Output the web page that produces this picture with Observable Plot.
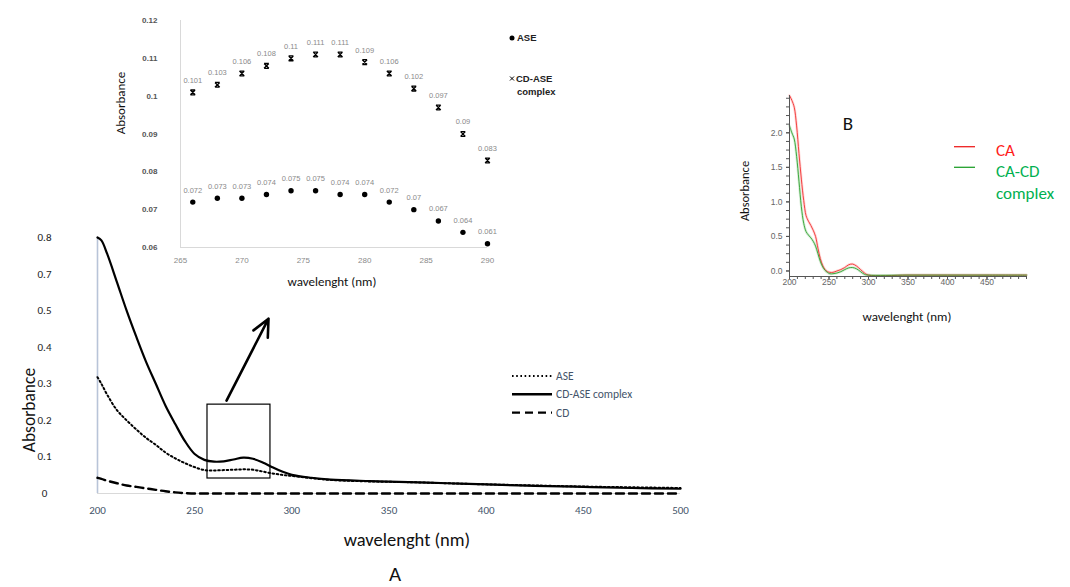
<!DOCTYPE html>
<html><head><meta charset="utf-8">
<script src="https://cdn.jsdelivr.net/npm/d3@7"></script>
<script src="https://cdn.jsdelivr.net/npm/@observablehq/plot@0.6"></script>
<style>
body{margin:0;background:#fff;}
#root{position:relative;width:1070px;height:587px;overflow:hidden;background:#fff;font-family:Carlito,Lato,"Open Sans",sans-serif;}
.abs{position:absolute;}
.t{position:absolute;white-space:nowrap;transform:translate(-50%,-50%);line-height:1;}
.tl{position:absolute;white-space:nowrap;transform:translate(0,-50%);line-height:1;}
.rot{transform:translate(-50%,-50%) rotate(-90deg);}
</style></head><body><div id="root"></div>
<script>
// ---------- Panel A (main spectrum) ----------
const wlA = [200,202,205,210,215,220,225,230,235,240,245,250,255,260,265,270,275,280,285,290,295,300,310,320,340,360,380,400,425,450,475,500];
const complexA = [0.700,0.692,0.655,0.578,0.500,0.428,0.360,0.300,0.240,0.190,0.143,0.108,0.092,0.087,0.088,0.093,0.098,0.095,0.085,0.072,0.060,0.051,0.043,0.038,0.034,0.031,0.028,0.025,0.021,0.018,0.015,0.013];
const aseA     = [0.318,0.300,0.270,0.228,0.200,0.175,0.152,0.133,0.112,0.096,0.083,0.072,0.064,0.063,0.064,0.065,0.066,0.065,0.060,0.055,0.051,0.048,0.042,0.037,0.033,0.031,0.028,0.025,0.022,0.019,0.017,0.015];
const cdA      = [0.043,0.040,0.035,0.028,0.022,0.018,0.014,0.010,0.006,0.003,0.001,0,0,0,0,0,0,0,0,0,0,0,0,0,0,0,0,0,0,0,0,0];
const xTicksA = [200,250,300,350,400,450,500];
const yTickPosA = [0,0.1,0.2,0.3,0.4,0.5,0.6,0.7];
const yTickLabelsA = ["0","0.1","0.2","0.3","0.4","0.5","0.7","0.8"];
const seriesNamesA = ["ASE","CD-ASE complex","CD"];
const zoomBoxA = [{x1:256.6,x2:289,y1:0.041,y2:0.243}];
const zoomArrowA = [{x1:266.4,y1:0.254,x2:288,y2:0.478}];

// ---------- Inset (265-290 nm) ----------
const wlIn = [266,268,270,272,274,276,278,280,282,284,286,288,290];
const aseIn = [0.072,0.073,0.073,0.074,0.075,0.075,0.074,0.074,0.072,0.070,0.067,0.064,0.061];
const complexIn = [0.101,0.103,0.106,0.108,0.110,0.111,0.111,0.109,0.106,0.102,0.097,0.090,0.083];
const xTicksIn = [265,270,275,280,285,290];
const yTicksIn = [0.06,0.07,0.08,0.09,0.10,0.11,0.12];
const yTickLabelsIn = ["0.06","0.07","0.08","0.09","0.1","0.11","0.12"];
const seriesNamesIn = ["ASE","CD-ASE","complex"];

// ---------- Panel B ----------
const wlB = [200,203,206,209,212,215,218,221,224,227,230,233,236,239,242,245,248,251,255,260,265,270,275,280,285,290,295,300,350,400,450,500];
const caB   = [2.54,2.47,2.37,2.10,1.70,1.33,1.02,0.80,0.72,0.66,0.59,0.50,0.33,0.18,0.08,0.02,-0.01,-0.02,-0.02,0.00,0.02,0.05,0.09,0.10,0.07,0.02,-0.03,-0.06,-0.06,-0.06,-0.06,-0.06];
const cacdB = [2.10,2.00,1.91,1.66,1.30,0.93,0.69,0.57,0.52,0.48,0.43,0.36,0.25,0.14,0.06,0.01,-0.02,-0.04,-0.04,-0.03,-0.01,0.02,0.045,0.05,0.03,-0.01,-0.05,-0.06,-0.06,-0.06,-0.06,-0.06];
const xTicksB = [200,250,300,350,400,450];
const yTicksB = [0,0.5,1.0,1.5,2.0];
const seriesNamesB = ["CA","CA-CD","complex"];

const root = document.getElementById("root");
function place(el, left, top){ el.style.position="absolute"; el.style.left=left+"px"; el.style.top=top+"px"; root.appendChild(el); return el; }
function txt(s, x, y, css, cls="t"){ const d=document.createElement("div"); d.className=cls; d.textContent=s; d.style.left=x+"px"; d.style.top=y+"px"; if(css) d.style.cssText+=css; root.appendChild(d); return d; }

const rows = (xs, vs) => xs.map((x,i)=>({x, y: vs[i]}));

// x-with-bars marker
const hourglass = {draw(ctx, size){ const s = Math.sqrt(size/Math.PI);
  ctx.moveTo(-s,-s); ctx.lineTo(s,s); ctx.moveTo(s,-s); ctx.lineTo(-s,s);
  ctx.moveTo(-s,-s); ctx.lineTo(s,-s); ctx.moveTo(-s,s); ctx.lineTo(s,s); }};

// ----- Main chart A -----
const plotA = Plot.plot({
  width:700, height:320, marginLeft:97, marginRight:20, marginTop:17, marginBottom:47,
  x:{domain:[200,500]}, y:{domain:[0,0.7]},
  style:{fontFamily:"Carlito,Lato,sans-serif", fontSize:"11px", background:"transparent", overflow:"visible"},
  marks:[
    Plot.ruleY([0],{stroke:"#d9d9d9"}),
    Plot.ruleX([200],{stroke:"#b8c4d8", strokeWidth:1.6}),
    Plot.axisX({ticks:xTicksA, tickSize:0, tickPadding:13, fill:"#44546A", label:null, fontSize:11}),
    Plot.axisY({ticks:yTickPosA, tickFormat:d=>yTickLabelsA[yTickPosA.indexOf(d)], tickSize:0, tickPadding:53, textAnchor:"middle", fill:"#222", label:null, fontSize:11}),
    Plot.line(rows(wlA, cdA), {x:"x", y:"y", stroke:"black", strokeWidth:2.4, strokeDasharray:"8,5", curve:"monotone-x"}),
    Plot.line(rows(wlA, aseA), {x:"x", y:"y", stroke:"black", strokeWidth:2, strokeDasharray:"1.6,2.6", curve:"catmull-rom"}),
    Plot.line(rows(wlA, complexA), {x:"x", y:"y", stroke:"black", strokeWidth:2.2, curve:"catmull-rom"}),
    Plot.rect(zoomBoxA, {x1:"x1", x2:"x2", y1:"y1", y2:"y2", fill:"none", stroke:"black", strokeWidth:1.2}),
    Plot.arrow(zoomArrowA, {x1:"x1", y1:"y1", x2:"x2", y2:"y2", stroke:"black", strokeWidth:2.6, headLength:11, headAngle:50})
  ]
});
place(plotA, 0, 220);

// legend A
const legA = document.createElementNS("http://www.w3.org/2000/svg","svg");
legA.setAttribute("width",160); legA.setAttribute("height",60);
const dashes = ["1.6,2.6", null, "8,5"];
legA.innerHTML = seriesNamesA.map((n,i)=>{
  const y = 8 + i*18.3;
  return `<line x1="2" x2="42" y1="${y}" y2="${y}" stroke="black" stroke-width="${i===0?2:2.4}" ${dashes[i]?`stroke-dasharray="${dashes[i]}"`:""}/>`+
         `<text x="46" y="${y}" dy="0.35em" font-size="11.5" fill="#44546A" font-family="Carlito,Lato,sans-serif">${n}</text>`;
}).join("");
place(legA, 510, 368);

txt("Absorbance", 30, 410, "font-size:17.5px;color:#111;", "t rot");
txt("wavelenght (nm)", 407, 540, "font-size:18.5px;color:#111;");
txt("A", 395, 574, "font-size:21px;color:#111;");

// ----- Inset -----
const aseRows = rows(wlIn, aseIn), cRows = rows(wlIn, complexIn);
const plotIn = Plot.plot({
  width:480, height:300, marginLeft:80, marginRight:93, marginTop:20, marginBottom:53,
  x:{domain:[265,290]}, y:{domain:[0.06,0.12]},
  style:{fontFamily:"Liberation Sans Narrow,Arial,sans-serif", background:"transparent", overflow:"visible"},
  marks:[
    Plot.ruleX([265],{stroke:"#d9d9d9"}),
    Plot.ruleY([0.06],{stroke:"#d9d9d9"}),
    Plot.axisX({ticks:xTicksIn, tickSize:0, tickPadding:10, fill:"#8a8a8a", label:null, fontSize:8}),
    Plot.axisY({ticks:yTicksIn, tickFormat:d=>yTickLabelsIn[yTicksIn.indexOf(d)], tickSize:0, tickPadding:23, fill:"#555", fontWeight:"bold", label:null, fontSize:8, fontFamily:"Liberation Sans,Arial,sans-serif"}),
    Plot.dot(aseRows, {x:"x", y:"y", r:2.7, fill:"black"}),
    Plot.dot(cRows, {x:"x", y:"y", symbol:hourglass, r:2.4, fill:"none", stroke:"black", strokeWidth:1.3}),
    Plot.text(aseRows, {x:"x", y:"y", text:d=>String(d.y), dy:-12, fill:"#8a8a8a", fontSize:7.5}),
    Plot.text(cRows, {x:"x", y:"y", text:d=>String(d.y), dy:-12, fill:"#8a8a8a", fontSize:7.5})
  ]
});
place(plotIn, 100, 0);
txt("Absorbance", 120, 103, "font-size:13px;color:#111;", "t rot");
txt("wavelenght (nm)", 332, 281, "font-size:13px;color:#111;");

// inset legend
const legIn = document.createElementNS("http://www.w3.org/2000/svg","svg");
legIn.setAttribute("width",80); legIn.setAttribute("height",70);
legIn.innerHTML =
  `<circle cx="4" cy="7" r="2.5" fill="black"/>`+
  `<text x="9" y="7" dy="0.36em" font-size="9.5" font-weight="bold" fill="#222" font-family="Liberation Sans,Arial,sans-serif">${seriesNamesIn[0]}</text>`+
  `<path d="M2,45.5L6,49.5M6,45.5L2,49.5" stroke="black" stroke-width="1" fill="none"/>`+
  `<text x="8" y="48" dy="0.36em" font-size="9.5" font-weight="bold" fill="#222" font-family="Liberation Sans,Arial,sans-serif">${seriesNamesIn[1]}</text>`+
  `<text x="9" y="61" dy="0.36em" font-size="9.5" font-weight="bold" fill="#222" font-family="Liberation Sans,Arial,sans-serif">${seriesNamesIn[2]}</text>`;
place(legIn, 508, 31);

// ----- Panel B -----
const caRows = rows(wlB, caB), cacdRows = rows(wlB, cacdB);
const plotB = Plot.plot({
  width:340, height:260, marginLeft:59, marginRight:44, marginTop:15, marginBottom:64,
  x:{domain:[200,500]}, y:{domain:[-0.08,2.54]},
  style:{fontFamily:"Liberation Sans Narrow,Arial,sans-serif", background:"transparent", overflow:"visible"},
  marks:[
    Plot.line(caRows, {x:"x", y:"y", stroke:"#ffb0b0", strokeWidth:2.6, strokeOpacity:0.5, curve:"catmull-rom"}),
    Plot.line(cacdRows, {x:"x", y:"y", stroke:"#b0dcb0", strokeWidth:2.6, strokeOpacity:0.5, curve:"catmull-rom"}),
    Plot.line(caRows, {x:"x", y:"y", stroke:"#f03030", strokeWidth:0.9, curve:"catmull-rom"}),
    Plot.line(cacdRows, {x:"x", y:"y", stroke:"#2ca02c", strokeWidth:0.9, curve:"catmull-rom"}),
    Plot.ruleX([200],{stroke:"#555", strokeWidth:1}),
    Plot.ruleY([-0.08],{stroke:"#555", strokeWidth:1}),
    Plot.axisY({ticks:d3.range(0,2.55,0.125), tickSize:3, tickFormat:()=>"", label:null, stroke:"#555"}),
    Plot.axisY({ticks:yTicksB, tickSize:3, tickPadding:4, tickFormat:d3.format(".1f"), fill:"#666", label:null, fontSize:8.5, stroke:"#555"}),
    Plot.axisX({ticks:d3.range(200,501,10), tickSize:3, tickFormat:()=>"", label:null, stroke:"#555"}),
    Plot.axisX({ticks:xTicksB, tickSize:3, tickPadding:-1, fill:"#666", label:null, fontSize:8.5, stroke:"#555"})
  ]
});
place(plotB, 730, 80);
txt("Absorbance", 745, 191, "font-size:12.5px;color:#111;", "t rot");
txt("wavelenght (nm)", 907, 316, "font-size:13px;color:#111;");
txt("B", 848, 123, "font-size:19px;color:#111;");

const legB = document.createElementNS("http://www.w3.org/2000/svg","svg");
legB.setAttribute("width",40); legB.setAttribute("height",40);
legB.innerHTML = `<line x1="1" x2="22" y1="6.7" y2="6.7" stroke="#ee2020" stroke-width="1.3"/>`+
                 `<line x1="1" x2="22" y1="27.3" y2="27.3" stroke="#22a02c" stroke-width="1.3"/>`;
place(legB, 953, 140);
txt(seriesNamesB[0], 996, 150, "font-size:17px;color:#ff1a1a;", "tl");
txt(seriesNamesB[1], 996, 171, "font-size:17px;color:#00b050;", "tl");
txt(seriesNamesB[2], 996, 193, "font-size:17px;color:#00b050;", "tl");
</script></body></html>
